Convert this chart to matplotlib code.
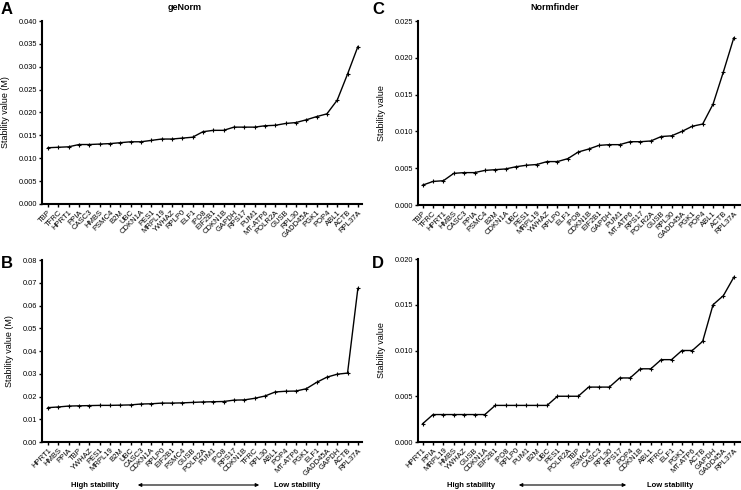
import matplotlib
matplotlib.use("Agg")
import matplotlib.pyplot as plt

plt.rcParams['font.family'] = ['Liberation Sans', 'DejaVu Sans']

# panel A - geNorm (set 1)
genes_a = ['TBP', 'TFRC', 'HPRT1', 'PPIA', 'CASC3', 'HMBS', 'PSMC4', 'B2M', 'UBC', 'CDKN1A',
           'PES1', 'MRPL19', 'YWHAZ', 'RPLP0', 'ELF1', 'IPO8', 'EIF2B1', 'CDKN1B', 'GAPDH',
           'RPS17', 'PUM1', 'MT-ATP6', 'POLR2A', 'GUSB', 'RPL30', 'GADD45A', 'PGK1', 'POP4',
           'ABL1', 'ACTB', 'RPL37A']
values_a = [0.0123, 0.0124, 0.0125, 0.0130, 0.0130, 0.0131, 0.0132, 0.0134, 0.0136, 0.0136,
            0.0139, 0.0142, 0.0142, 0.0144, 0.0146, 0.0158, 0.0161, 0.0161, 0.0168, 0.0168,
            0.0168, 0.0171, 0.0172, 0.0176, 0.0178, 0.0184, 0.0191, 0.0197, 0.0227, 0.0284,
            0.0344]

# panel B - geNorm (set 2)
genes_b = ['HPRT1', 'HMBS', 'PPIA', 'TBP', 'YWHAZ', 'PES1', 'MRPL19', 'B2M', 'UBC', 'CASC3',
           'CDKN1A', 'RPLP0', 'EIF2B1', 'PSMC4', 'GUSB', 'POLR2A', 'PUM1', 'IPO8', 'RPS17',
           'CDKN1B', 'TFRC', 'RPL30', 'ABL1', 'POP4', 'MT-ATP6', 'PGK1', 'ELF1', 'GADD45A',
           'GAPDH', 'ACTB', 'RPL37A']
values_b = [0.0151, 0.0154, 0.0158, 0.0159, 0.0160, 0.0161, 0.0161, 0.0162, 0.0163, 0.0167,
            0.0168, 0.0171, 0.0171, 0.0172, 0.0174, 0.0176, 0.0177, 0.0178, 0.0184, 0.0185,
            0.0192, 0.0202, 0.0220, 0.0223, 0.0224, 0.0234, 0.0262, 0.0285, 0.0298, 0.0303,
            0.0675]

# panel C - Normfinder (set 1)
genes_c = ['TBP', 'TFRC', 'HPRT1', 'HMBS', 'CASC3', 'PPIA', 'PSMC4', 'B2M', 'CDKN1A', 'UBC',
           'PES1', 'MRPL19', 'YWHAZ', 'RPLP0', 'ELF1', 'IPO8', 'CDKN1B', 'EIF2B1', 'GAPDH',
           'PUM1', 'MT-ATP6', 'RPS17', 'POLR2A', 'GUSB', 'RPL30', 'GADD45A', 'PGK1', 'POP4',
           'ABL1', 'ACTB', 'RPL37A']
values_c = [0.0027, 0.0032, 0.0033, 0.0043, 0.0044, 0.0044, 0.0047, 0.0048, 0.0049, 0.0052,
            0.0054, 0.0055, 0.0059, 0.0059, 0.0063, 0.0072, 0.0076, 0.0081, 0.0082, 0.0082,
            0.0086, 0.0086, 0.0087, 0.0093, 0.0094, 0.0100, 0.0107, 0.0110, 0.0137, 0.0181,
            0.0227]

# panel D - Normfinder (set 2)
genes_d = ['HPRT1', 'PPIA', 'MRPL19', 'HMBS', 'YWHAZ', 'GUSB', 'CDKN1A', 'EIF2B1', 'IPO8',
           'RPLP0', 'PUM1', 'B2M', 'UBC', 'PES1', 'POLR2A', 'TBP', 'PSMC4', 'CASC3', 'RPL30',
           'RPS17', 'POP4', 'CDKN1B', 'ABL1', 'TFRC', 'ELF1', 'PGK1', 'MT-ATP6', 'ACTB',
           'GAPDH', 'GADD45A', 'RPL37A']
values_d = [0.002, 0.003, 0.003, 0.003, 0.003, 0.003, 0.003, 0.004, 0.004, 0.004, 0.004,
            0.004, 0.004, 0.005, 0.005, 0.005, 0.006, 0.006, 0.006, 0.007, 0.007, 0.008,
            0.008, 0.009, 0.009, 0.010, 0.010, 0.011, 0.015, 0.016, 0.018]

W, H = 741, 490


def px_axes(fig, left, top, right, bottom):
    return fig.add_axes([left / W, 1 - bottom / H, (right - left) / W, (bottom - top) / H])


def draw_panel(ax, genes, values, ymax, ystep, fmt, ylabel, xlim):
    x = list(range(len(genes)))
    ax.plot(x, values, color='black', lw=1.0, marker='+', ms=3, mew=0.8)
    ax.set_xlim(*xlim)
    ax.set_ylim(0, ymax)
    n = int(round(ymax / ystep))
    ticks = [i * ystep for i in range(n + 1)]
    ax.set_yticks(ticks)
    ax.set_yticklabels([fmt.format(t) for t in ticks], fontsize=5.3)
    ax.set_xticks(x)
    ax.set_xticklabels(genes, rotation=45, ha='right', rotation_mode='anchor', fontsize=5.5)
    for s in ['top', 'right']:
        ax.spines[s].set_visible(False)
    for s in ['left', 'bottom']:
        ax.spines[s].set_linewidth(1.5)
    ax.tick_params(axis='both', length=2.5, width=1.0, pad=1)
    ax.set_ylabel(ylabel, fontsize=6.5, labelpad=6)


def stability_arrow(fig, x_high, x0, x1, x_low, y):
    yf = 1 - y / H
    fig.text(x_high / W, yf, 'High stability', fontsize=5.5, fontweight='bold',
             ha='center', va='center')
    fig.text(x_low / W, yf, 'Low stability', fontsize=5.5, fontweight='bold',
             ha='center', va='center')
    fig.patches.append(matplotlib.patches.FancyArrowPatch(
        (x0 / W, yf), (x1 / W, yf), transform=fig.transFigure, arrowstyle='<|-|>',
        mutation_scale=5, color='black', lw=0.8))


fig = plt.figure(figsize=(W / 100, H / 100), dpi=100)

ax_a = px_axes(fig, 42, 21, 362, 204)
draw_panel(ax_a, genes_a, values_a, 0.040, 0.005, '{:.3f}', 'Stability value (M)', (-0.58, 30.4))
ax_b = px_axes(fig, 42, 260, 362, 442)
draw_panel(ax_b, genes_b, values_b, 0.08, 0.01, '{:.2f}', 'Stability value (M)', (-0.58, 30.4))
ax_c = px_axes(fig, 418, 21, 740, 205)
draw_panel(ax_c, genes_c, values_c, 0.025, 0.005, '{:.3f}', 'Stability value', (-0.45, 30.6))
ax_d = px_axes(fig, 418, 259, 740, 442)
draw_panel(ax_d, genes_d, values_d, 0.020, 0.005, '{:.3f}', 'Stability value', (-0.45, 30.6))

fig.text(185 / W, 1 - 7 / H, 'geNorm', fontsize=6.5, fontweight='bold', ha='center', va='center')
fig.text(555 / W, 1 - 7 / H, 'Normfinder', fontsize=6.5, fontweight='bold', ha='center', va='center')

for lab, x, y in [('A', 7, 9), ('B', 7, 263), ('C', 378, 9), ('D', 378, 263)]:
    fig.text(x / W, 1 - y / H, lab, fontsize=12, fontweight='bold', ha='center', va='center')

stability_arrow(fig, 95, 135, 262, 297, 485)
stability_arrow(fig, 471, 516, 629, 670, 485)

fig.savefig('out.png', dpi=100)
